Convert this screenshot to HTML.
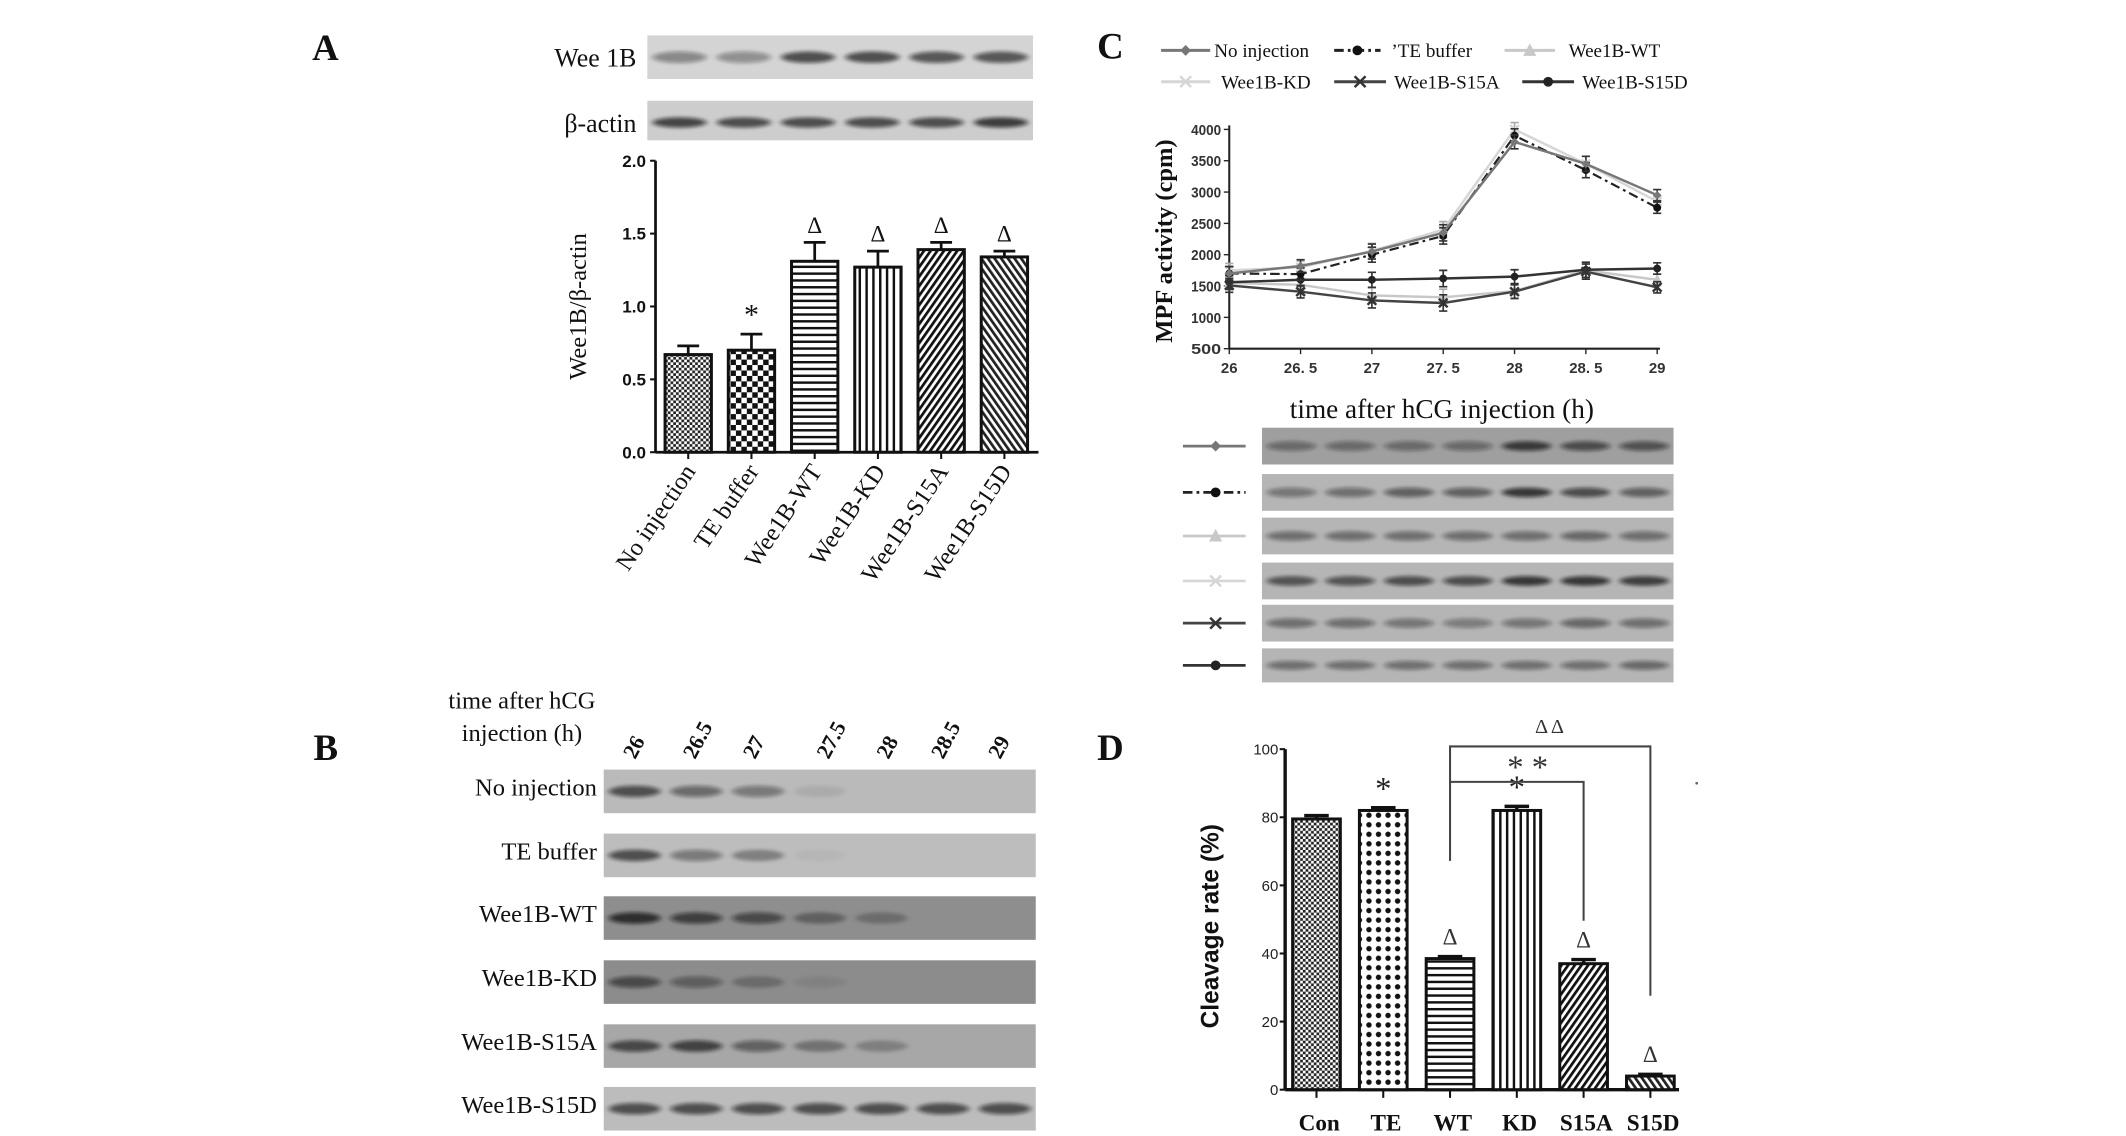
<!DOCTYPE html>
<html><head><meta charset="utf-8"><style>
html,body{margin:0;padding:0;background:#fff;width:2126px;height:1136px;overflow:hidden}
svg{display:block}
</style></head><body>
<svg id="fig" width="2126" height="1136" viewBox="0 0 1560 834" preserveAspectRatio="none" xmlns="http://www.w3.org/2000/svg">
<defs>
<filter id="blur2" x="-50%" y="-200%" width="200%" height="500%"><feGaussianBlur stdDeviation="2.2 1.4"/></filter>
<pattern id="pCheckFine" width="4" height="4" patternUnits="userSpaceOnUse"><rect width="4" height="4" fill="#fff"/><rect width="2" height="2" fill="#222"/><rect x="2" y="2" width="2" height="2" fill="#222"/></pattern>
<pattern id="pCheck" width="8" height="8" patternUnits="userSpaceOnUse"><rect width="8" height="8" fill="#fff"/><rect width="4" height="4" fill="#111"/><rect x="4" y="4" width="4" height="4" fill="#111"/></pattern>
<pattern id="pHoriz" width="5" height="5" patternUnits="userSpaceOnUse"><rect width="5" height="5" fill="#fff"/><rect width="5" height="1.8" fill="#111"/></pattern>
<pattern id="pVert" width="5" height="5" patternUnits="userSpaceOnUse"><rect width="5" height="5" fill="#fff"/><rect width="1.8" height="5" fill="#111"/></pattern>
<pattern id="pDiag1" width="4" height="4" patternUnits="userSpaceOnUse" patternTransform="rotate(35)"><rect width="4" height="4" fill="#fff"/><rect width="2" height="4" fill="#111"/></pattern>
<pattern id="pDiag2" width="4" height="4" patternUnits="userSpaceOnUse" patternTransform="rotate(-35)"><rect width="4" height="4" fill="#fff"/><rect width="2" height="4" fill="#222"/></pattern>
<pattern id="pDots" width="7" height="7" patternUnits="userSpaceOnUse"><rect width="7" height="7" fill="#fff"/><circle cx="3.5" cy="3.5" r="2" fill="#111"/></pattern>
</defs>
<g id="root"></g>
</svg>
<script>
// ---------- Panel A data ----------
const aCategories = ["No injection","TE buffer","Wee1B-WT","Wee1B-KD","Wee1B-S15A","Wee1B-S15D"];
const aValues = [0.67,0.70,1.31,1.27,1.39,1.34];
const aErrors = [0.06,0.11,0.13,0.11,0.05,0.04];
const aMarks = ["","*","Δ","Δ","Δ","Δ"];
const aTicks = ["0.0","0.5","1.0","1.5","2.0"];
const aWeeBands = [0.5,0.45,0.85,0.85,0.8,0.8];
const aActinBands = [0.9,0.85,0.85,0.85,0.85,0.95];
// ---------- Panel B data ----------
const bTimes = ["26","26.5","27","27.5","28","28.5","29"];
const bRows = ["No injection","TE buffer","Wee1B-WT","Wee1B-KD","Wee1B-S15A","Wee1B-S15D"];
const bBand0 = [0.8,0.6,0.5,0.1,0,0,0];
const bBand1 = [0.8,0.5,0.4,0.05,0,0,0];
const bBand2 = [0.95,0.8,0.7,0.4,0.3,0,0];
const bBand3 = [0.7,0.5,0.3,0.1,0,0,0];
const bBand4 = [0.8,0.85,0.6,0.4,0.3,0,0];
const bBand5 = [0.8,0.8,0.8,0.8,0.8,0.8,0.8];
// ---------- Panel C data ----------
const cTimes = [26,26.5,27,27.5,28,28.5,29];
const cTickY = [500,1000,1500,2000,2500,3000,3500,4000];
const cNoInj = [1700,1820,2050,2350,3800,3450,2950];
const cTE = [1700,1690,2000,2300,3900,3350,2750];
const cWT = [1550,1520,1350,1320,1420,1750,1600];
const cKD = [1750,1800,2060,2400,4000,3450,2850];
const cS15A = [1510,1410,1270,1230,1410,1730,1480];
const cS15D = [1560,1600,1600,1620,1650,1760,1780];
const cErr = [110,100,120,130,110,120,90];
const cBlot0 = [0.5,0.5,0.5,0.5,0.9,0.75,0.7];
const cBlot1 = [0.5,0.55,0.65,0.65,0.95,0.8,0.65];
const cBlot2 = [0.55,0.55,0.55,0.55,0.55,0.6,0.55];
const cBlot3 = [0.75,0.75,0.8,0.8,0.95,0.95,0.9];
const cBlot4 = [0.55,0.55,0.5,0.45,0.5,0.6,0.55];
const cBlot5 = [0.55,0.55,0.55,0.55,0.55,0.55,0.6];
// ---------- Panel D data ----------
const dCategories = ["Con","TE","WT","KD","S15A","S15D"];
const dValues = [79.5,82,38.5,82,37,4];
const dErrors = [1,0.8,0.6,1.2,1.2,0.5];
const dMarks = ["","*","Δ","*","Δ","Δ"];
const dTicks = [0,20,40,60,80,100];

const NS="http://www.w3.org/2000/svg";
const root=document.getElementById('root');
function mk(tag,attrs,parent,text){const e=document.createElementNS(NS,tag);for(const k in attrs)e.setAttribute(k,attrs[k]);if(text!==undefined)e.textContent=text;(parent||root).appendChild(e);return e;}
function txt(x,y,s,size,opts,parent){const o=Object.assign({x:x,y:y,'font-size':size,'font-family':'Liberation Serif, serif',fill:'#111'},opts||{});return mk('text',o,parent,s);}

function blot(parent,x,y,w,h,bands,bg,bandY){
  const g=mk('g',{},parent);
  
  
  mk('rect',{x:x,y:y,width:w,height:h,fill:bg},g);
  const n=bands.length, lw=w/n;
  bands.forEach((v,i)=>{
    if(v<=0)return;
    const b=mk('ellipse',{cx:x+lw*(i+0.5),cy:y+h*(bandY||0.5),rx:lw*0.42,ry:h*0.13,fill:'#111','fill-opacity':v*0.8,filter:'url(#blur2)'},g);
    
    
  });
  return g;
}

// ================= PANEL A =================
const pA=mk('g',{});


txt(229,44,"A",27,{'font-weight':'bold'},pA);
txt(467,49,"Wee 1B",19,{'text-anchor':'end'},pA);
blot(pA,475,26,283,32,aWeeBands,'#d4d4d4',0.5);
txt(467,97,"β-actin",19,{'text-anchor':'end'},pA);
blot(pA,475,74,283,29,aActinBands,'#cdcdcd',0.55);
const aX0=481,aY0=332,aH=214,aXEnd=762;
const aY=v=>aY0-v/2*aH;
const aCx=i=>505+i*46.4;
const aPats=['pCheckFine','pCheck','pHoriz','pVert','pDiag1','pDiag2'];
mk('line',{x1:aX0,y1:aY(2),x2:aX0,y2:aY0,stroke:'#111','stroke-width':2},pA);
mk('line',{x1:aX0,y1:aY0,x2:aXEnd,y2:aY0,stroke:'#111','stroke-width':2},pA);
aTicks.forEach((t,i)=>{const v=parseFloat(t);
  mk('line',{x1:aX0-4,y1:aY(v),x2:aX0,y2:aY(v),stroke:'#111','stroke-width':1.5},pA);
  const l=txt(474,aY(v)+4.5,t,12.5,{'text-anchor':'end','font-family':'Liberation Sans, sans-serif','font-weight':'bold'},pA);
  
});
const aT=txt(0,0,"Wee1B/β-actin",18,{'text-anchor':'middle',transform:'translate(430,225) rotate(-90)'},pA);

aValues.forEach((v,i)=>{
  const cx=aCx(i),w=34;
  const r=mk('rect',{x:cx-w/2,y:aY(v),width:w,height:aY0-aY(v),fill:'url(#'+aPats[i]+')',stroke:'#111','stroke-width':2.2},pA);
  
  
  const e=aErrors[i];
  mk('line',{x1:cx,y1:aY(v),x2:cx,y2:aY(v+e),stroke:'#111','stroke-width':2},pA);
  mk('line',{x1:cx-8,y1:aY(v+e),x2:cx+8,y2:aY(v+e),stroke:'#111','stroke-width':2},pA);
  mk('line',{x1:cx,y1:aY0,x2:cx,y2:aY0+5,stroke:'#111','stroke-width':1.5},pA);
  if(aMarks[i]){const m=txt(cx,aY(v+e)-7,aMarks[i],aMarks[i]==='*'?22:17,{'text-anchor':'middle'},pA);}
  const lb=txt(0,0,aCategories[i],18,{'text-anchor':'end',transform:'translate('+(cx+6)+','+(aY0+14)+') rotate(-56)'},pA);
  
});

// ================= PANEL B =================
const pB=mk('g',{});


txt(230,558,"B",27,{'font-weight':'bold'},pB);
txt(383,520,"time after hCG",18,{'text-anchor':'middle'},pB);
txt(383,544,"injection (h)",18,{'text-anchor':'middle'},pB);
const bLaneX=[472,516,560,614,658,698,740];
bTimes.forEach((t,i)=>{const l=txt(0,0,t,16,{'font-weight':'bold','text-anchor':'start',transform:'translate('+(bLaneX[i]-6)+',558) rotate(-62)'},pB);});
const bBands=[bBand0,bBand1,bBand2,bBand3,bBand4,bBand5];
const bBgs=['#bababa','#bdbdbd','#8e8e8e','#8c8c8c','#a7a7a7','#bcbcbc'];
const bRowY=[565,612,658,705,752,798];
bRows.forEach((r,i)=>{
  txt(438,bRowY[i]+19,r,18,{'text-anchor':'end'},pB);
  blot(pB,443,bRowY[i],317,32,bBands[i],bBgs[i],0.5);
});

// ================= PANEL C =================
const pC=mk('g',{});


txt(805,43,"C",27,{'font-weight':'bold'},pC);
const cStyles=[
 {name:'No injection',stroke:'#777',dash:'',marker:'diamond',mfill:'#777',w:1.8},
 {name:'\u2019TE buffer',stroke:'#222',dash:'7 3 2 3',marker:'circle',mfill:'#111',w:1.6},
 {name:'Wee1B-WT',stroke:'#c8c8c8',dash:'',marker:'triangle',mfill:'#c8c8c8',w:1.8},
 {name:'Wee1B-KD',stroke:'#d6d6d6',dash:'',marker:'x',mfill:'#d6d6d6',w:1.8},
 {name:'Wee1B-S15A',stroke:'#444',dash:'',marker:'x',mfill:'#333',w:1.8},
 {name:'Wee1B-S15D',stroke:'#333',dash:'',marker:'circle',mfill:'#222',w:1.8}
];
function marker(g,type,x,y,col,s){
  s=s||3.5;
  if(type==='diamond')mk('polygon',{points:[x,y-s,x+s,y,x,y+s,x-s,y].join(','),fill:col},g);
  else if(type==='circle')mk('circle',{cx:x,cy:y,r:s*0.9,fill:col},g);
  else if(type==='triangle')mk('polygon',{points:[x,y-s*1.3,x+s*1.2,y+s,x-s*1.2,y+s].join(','),fill:col},g);
  else {mk('path',{d:`M${x-s} ${y-s}L${x+s} ${y+s}M${x+s} ${y-s}L${x-s} ${y+s}`,stroke:col,'stroke-width':1.8},g);}
}
const legPos=[[852,37,891,36],[979,37,1021,34],[1104,37,1151,37],[852,60,896,36],[979,60,1023,38],[1117,60,1161,38]];
cStyles.forEach((s,i)=>{
  const g=mk('g',{},pC);
  
  
  const [lx,ly,tx,len]=legPos[i];
  mk('line',{x1:lx,y1:ly,x2:lx+len,y2:ly,stroke:s.stroke,'stroke-width':2.2,'stroke-dasharray':s.dash},g);
  marker(g,s.marker,lx+len/2,ly,s.mfill,4);
  txt(tx,ly+5,s.name,14,{},g);
});
const cX=t=>902+(t-26)/3*314;
const cY=v=>256-(v-500)/3500*161;
mk('line',{x1:902,y1:cY(4000)-3,x2:902,y2:256,stroke:'#222','stroke-width':1.5},pC);
mk('line',{x1:902,y1:256,x2:1218,y2:256,stroke:'#222','stroke-width':1.5},pC);
cTickY.forEach(v=>{mk('line',{x1:898,y1:cY(v),x2:902,y2:cY(v),stroke:'#222'},pC);
  const l=txt(896,cY(v)+4,String(v),11,{'text-anchor':'end','font-family':'Liberation Sans, sans-serif','font-weight':'bold',fill:'#333',textLength:22,lengthAdjust:'spacingAndGlyphs'},pC);});
cTimes.forEach(t=>{mk('line',{x1:cX(t),y1:256,x2:cX(t),y2:260,stroke:'#222'},pC);
  const l=txt(cX(t),274,String(t).replace('.','. '),11,{'text-anchor':'middle','font-family':'Liberation Sans, sans-serif','font-weight':'bold',fill:'#333'},pC);});
txt(0,0,"MPF activity (cpm)",18,{'text-anchor':'middle','font-family':'Liberation Serif, serif','font-weight':'bold',transform:'translate(860,177) rotate(-90)'},pC);
txt(1058,307,"time after hCG  injection (h)",20,{'text-anchor':'middle'},pC);
const cSeries=[cNoInj,cTE,cWT,cKD,cS15A,cS15D];
const order=[2,3,5,4,1,0];
order.forEach(si=>{
  const s=cStyles[si],vals=cSeries[si];
  const g=mk('g',{},pC);
  
  
  const pts=vals.map((v,i)=>cX(cTimes[i])+','+cY(v)).join(' ');
  mk('polyline',{points:pts,fill:'none',stroke:s.stroke,'stroke-width':s.w,'stroke-dasharray':s.dash},g);
  vals.forEach((v,i)=>{const x=cX(cTimes[i]),e=cErr[i];
    mk('path',{d:`M${x} ${cY(v-e)}V${cY(v+e)}M${x-3} ${cY(v-e)}h6M${x-3} ${cY(v+e)}h6`,stroke:s.stroke==='#d6d6d6'||s.stroke==='#c8c8c8'?'#aaa':'#333','stroke-width':1.2},g);
    marker(g,s.marker,x,cY(v),s.mfill,3.2);
  });
});
const cBlots=[cBlot0,cBlot1,cBlot2,cBlot3,cBlot4,cBlot5];
const cRowY=[314,348,380,413,444,476];
const cRowH=[27,27,27,27,27,25];
cBlots.forEach((b,i)=>{
  blot(pC,926,cRowY[i],302,cRowH[i],b,i===0?'#9f9f9f':'#b5b5b5',0.5);
  const s=cStyles[i],g=mk('g',{},pC);
  
  
  const y=cRowY[i]+cRowH[i]/2;
  mk('line',{x1:868,y1:y,x2:914,y2:y,stroke:s.stroke,'stroke-width':2,'stroke-dasharray':s.dash},g);
  marker(g,s.marker,892,y,s.mfill,4);
});

// ================= PANEL D =================
const pD=mk('g',{});


txt(805,558,"D",27,{'font-weight':'bold'},pD);
const dX0=943,dY0=800,dH=250;
const dY=v=>dY0-v/100*dH;
const dCx=i=>966+i*49;
const dPats=['pCheckFine','pDots','pHoriz','pVert','pDiag1','pDiag2'];
mk('line',{x1:dX0,y1:dY(100),x2:dX0,y2:dY0,stroke:'#111','stroke-width':2.5},pD);
mk('line',{x1:dX0,y1:dY0,x2:1232,y2:dY0,stroke:'#111','stroke-width':2.5},pD);
dTicks.forEach(v=>{mk('line',{x1:dX0-4,y1:dY(v),x2:dX0,y2:dY(v),stroke:'#111','stroke-width':1.5},pD);
  const l=txt(938,dY(v)+4,String(v),11,{'text-anchor':'end','font-family':'Liberation Sans, sans-serif',fill:'#222'},pD);});
txt(0,0,"Cleavage rate (%)",18,{'text-anchor':'middle','font-family':'Liberation Sans, sans-serif','font-weight':'bold',transform:'translate(894,680) rotate(-90)'},pD);
dValues.forEach((v,i)=>{
  const cx=dCx(i),w=35;
  const r=mk('rect',{x:cx-w/2,y:dY(v),width:w,height:dY0-dY(v),fill:'url(#'+dPats[i]+')',stroke:'#111','stroke-width':2.2},pD);
  
  
  const e=dErrors[i];
  mk('path',{d:`M${cx} ${dY(v)}V${dY(v+e)}M${cx-9} ${dY(v+e)}h18`,stroke:'#111','stroke-width':2.5},pD);
  mk('line',{x1:cx,y1:dY0,x2:cx,y2:dY0+6,stroke:'#111','stroke-width':1.5},pD);
  if(dMarks[i]){const star=dMarks[i]==='*';const m=txt(cx,dY(v+e)-(star?6:9),dMarks[i],star?24:17,{'text-anchor':'middle',fill:star?'#222':'#333'},pD);}
  const lb=txt(cx+2,830,dCategories[i],17,{'text-anchor':'middle','font-weight':'bold'},pD);
  
});
const brk=mk('g',{},pD);


mk('path',{d:`M${dCx(2)} 632V548H${dCx(5)}V731`,fill:'none',stroke:'#444','stroke-width':1.5},brk);
mk('path',{d:`M${dCx(2)} 574H${dCx(4)}V676`,fill:'none',stroke:'#444','stroke-width':1.5},brk);
txt(1137,538,"Δ Δ",15,{'text-anchor':'middle',fill:'#333'},brk);
txt(1121,571,"* *",24,{'text-anchor':'middle',fill:'#333'},brk);
mk('circle',{cx:1245,cy:575,r:1,fill:'#666'},pD);
</script>
</body></html>
